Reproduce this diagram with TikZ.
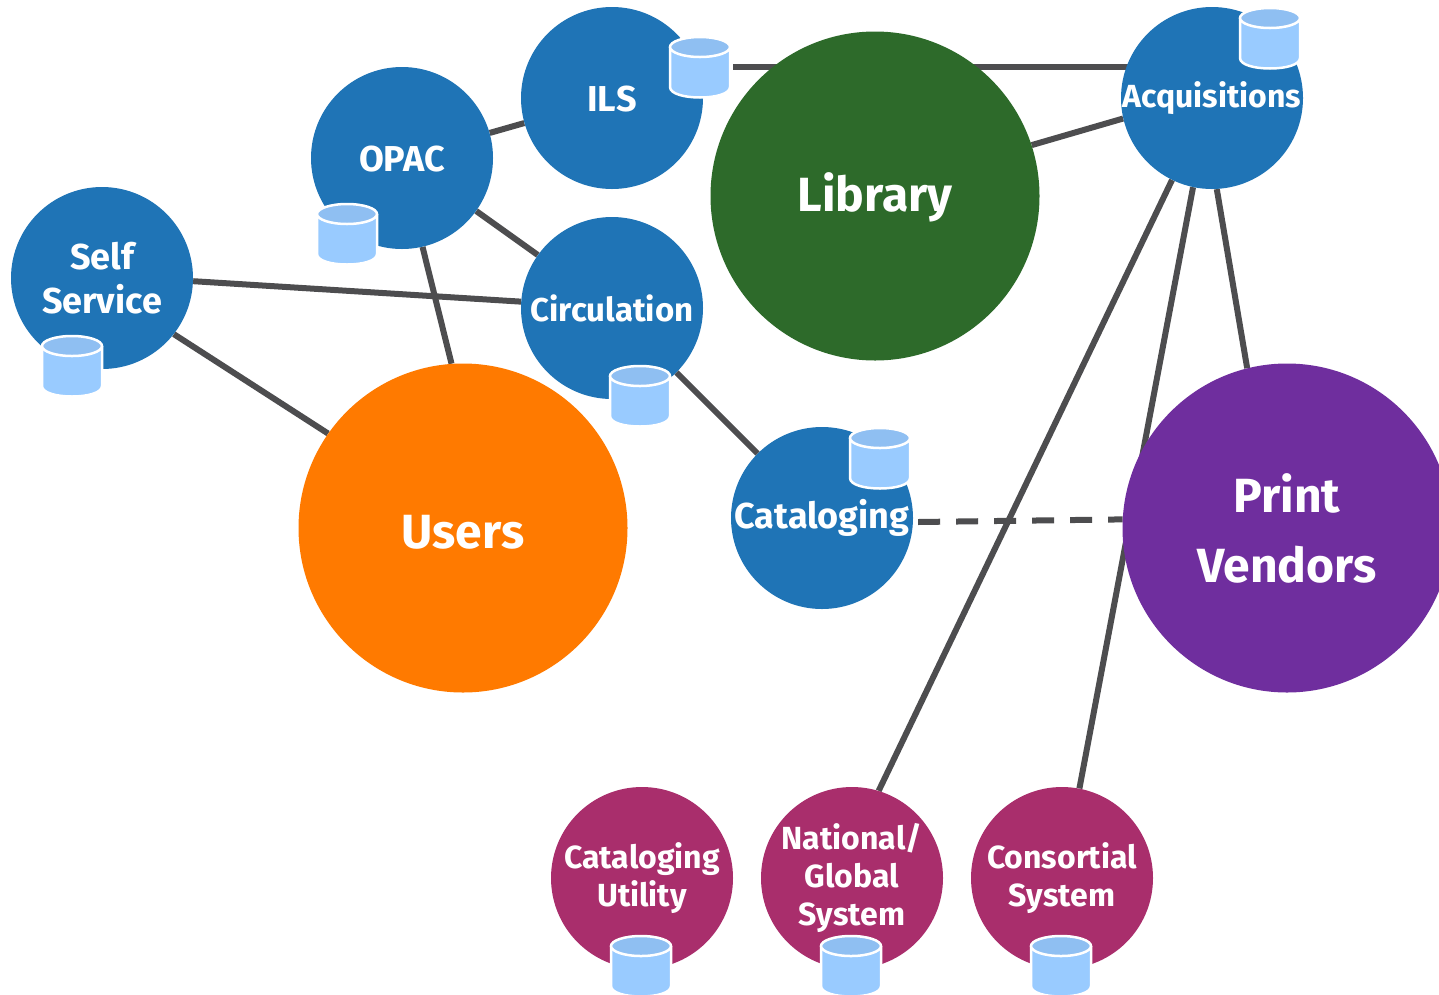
\documentclass[tikz,border=0pt]{standalone}
\usepackage{fontspec}
\setmainfont{Fira Sans}
\usepackage{tikz}
\usetikzlibrary{backgrounds}
\definecolor{sysblue}{HTML}{1F74B6}
\definecolor{libgreen}{HTML}{2D6A2A}
\definecolor{userorange}{HTML}{FF7A00}
\definecolor{vendorpurple}{HTML}{6F2E9E}
\definecolor{extplum}{HTML}{A92E6C}
\definecolor{dbbody}{HTML}{99CBFF}
\definecolor{dbtop}{HTML}{8FBFF2}
\definecolor{linkgray}{HTML}{4D4D4F}
\tikzset{
	basenode/.style = {circle, align=center, inner sep=0pt, text=white,
		font=\bfseries\fontsize{36}{44}\selectfont,
		execute at begin node={\rule{0pt}{0.78em}}},
	sys_b/.style = {basenode, fill=sysblue, minimum size=182pt},% small system, blue
	ext_p/.style = {basenode, fill=extplum, minimum size=182pt,
		font=\bfseries\fontsize{32}{38}\selectfont,
		execute at begin node={\rule{0pt}{0.87em}}},% outside system, plum
	big_n/.style = {basenode, minimum size=329pt,
		font=\bfseries\fontsize{48}{70}\selectfont,
		execute at begin node={\rule{0pt}{0.87em}}},% big party
	link/.style = {draw=linkgray, line width=6pt},
	db_n/.pic = {% database
		\draw [white, line width=2.5pt, fill=dbbody] (-30,-20) -- (-30,20)
			.. controls (-30,34) and (30,34) .. (30,20) -- (30,-20);
		\draw [white, line width=2.5pt, fill=dbtop] (0,-20) ellipse [x radius=30, y radius=10];
		\coordinate (-east) at (30,0);
	}
}
\begin{document}
\begin{tikzpicture}[x=1pt,y=-1pt]
	\path[use as bounding box, clip] (0,0) rectangle (1439,994);
	\node [sys_b] (ils) at (612,98) {ILS};
	\node [sys_b] (opac) at (402,158) {OPAC};
	\node [sys_b] (self) at (102,278) {Self\\Service};
	\node [sys_b, font=\bfseries\fontsize{33}{36}\selectfont] (circ) at (612,308) {Circulation};
	\node [sys_b, font=\bfseries\fontsize{36}{36}\selectfont] (cat) at (822,518) {Cataloging};
	\node [sys_b, font=\bfseries\fontsize{32}{36}\selectfont] (acq) at (1212,98) {Acquisitions};
	\node [big_n, fill=libgreen] (lib) at (875,196) {Library};
	\node [big_n, fill=userorange] (users) at (463,528) {Users};
	\node [big_n, fill=vendorpurple] (print) at (1287,528) {Print\\Vendors};
	\node [ext_p] (util) at (642,878) {Cataloging\\Utility};
	\node [ext_p] (nat) at (852,878) {National/\\Global\\System};
	\node [ext_p] (cons) at (1062,878) {Consortial\\System};
	\pic (ils_db) at (700,67) {db_n};
	\pic (opac_db) at (347,234) {db_n};
	\pic (self_db) at (72,366) {db_n};
	\pic (circ_db) at (640,396) {db_n};
	\pic (cat_db) at (880,458) {db_n};
	\pic (acq_db) at (1270,38) {db_n};
	\pic (util_db) at (641,966) {db_n};
	\pic (nat_db) at (851,966) {db_n};
	\pic (cons_db) at (1061,966) {db_n};
	\begin{scope}[on background layer]
		\draw [link] ([xshift=3pt]ils_db-east) -- (ils_db-east -| acq);
		\draw [link] (lib.18) -- (acq.193);
		\draw [link] (opac) -- (ils);
		\draw [link] (opac) -- (circ);
		\draw [link] (opac.-77) -- (users.94);
		\draw [link] (self.-2) -- (circ.176);
		\draw [link] (self.-38) -- (users.145);
		\draw [link] (circ) -- (cat);
		\draw [link] (acq.-87) -- (print.104);
		\draw [link] (acq.-116) -- (nat.73);
		\draw [link] (acq.-102) -- (cons.79);
		\draw [link, dash pattern=on 22pt off 16pt] ([shift={(5pt,-4pt)}]cat.east) -- (print.177);
	\end{scope}
\end{tikzpicture}
\end{document}
